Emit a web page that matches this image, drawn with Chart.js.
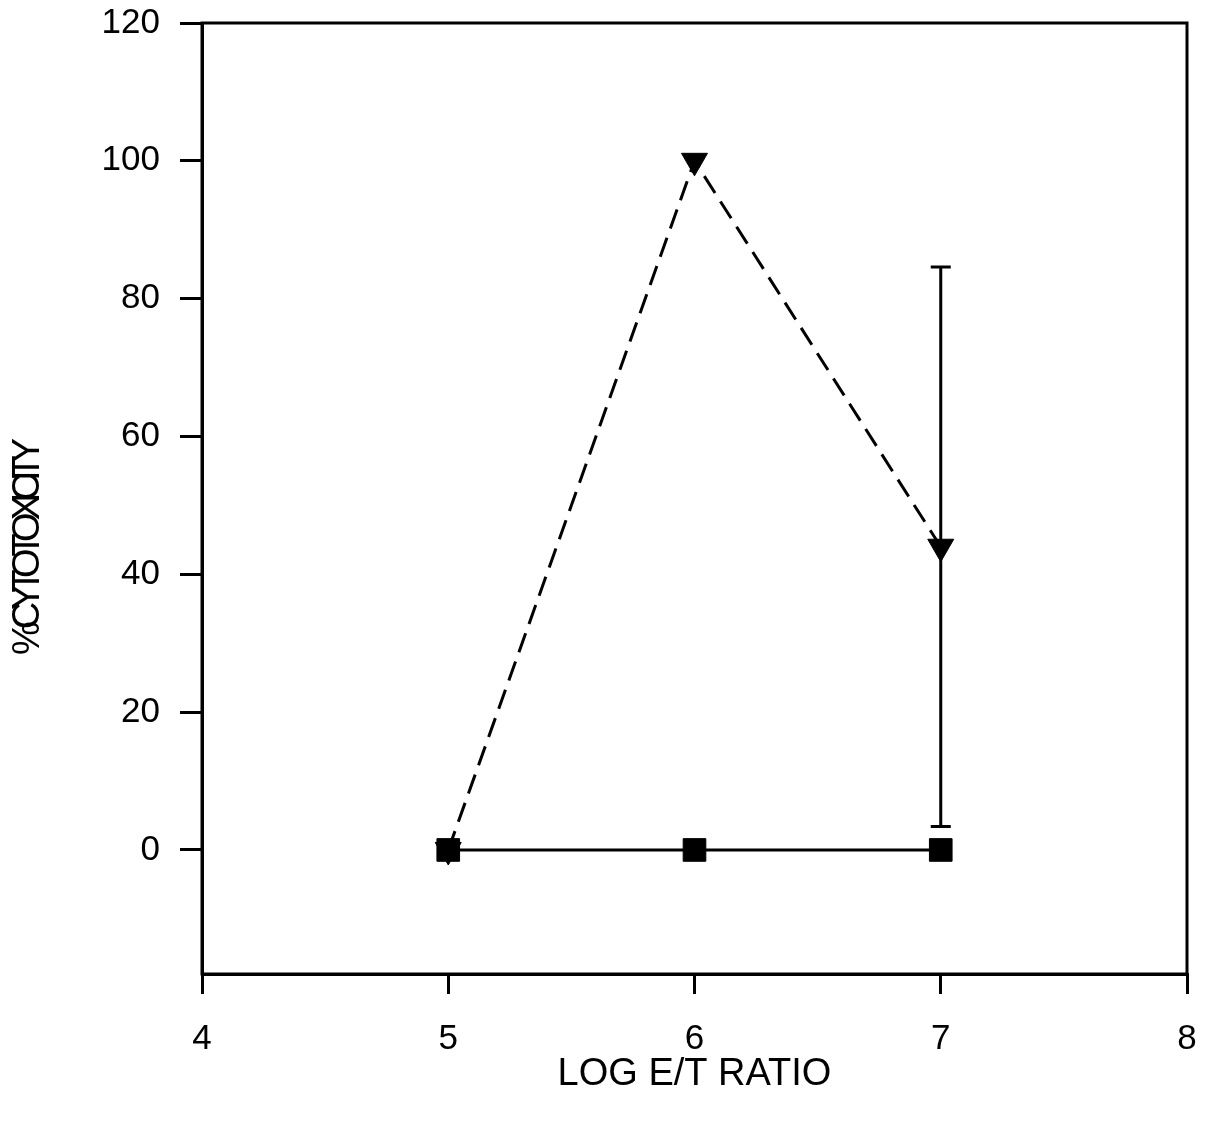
<!DOCTYPE html>
<html><head><meta charset="utf-8">
<script src="https://cdn.jsdelivr.net/npm/chart.js@4/dist/chart.umd.min.js"></script>
<style>html,body{margin:0;padding:0;background:#fff;}</style>
</head><body>
<canvas id="c" width="1205" height="1124" style="display:block;width:1205px;height:1124px"></canvas>
<script>
// ---- data ----
const logRatio = [5, 6, 7];
const seriesTriangle = [0, 100, 44];
const seriesSquare = [0, 0, 0];
const triangleErrLow = [null, null, 3.4];
const triangleErrHigh = [null, null, 84.6];
const xTickValues = [4, 5, 6, 7, 8];
const yTickValues = [0, 20, 40, 60, 80, 100, 120];
const xTitle = 'LOG E/T RATIO';
const yTitle = '%CYTOTOXICITY';

const FONT = '"Liberation Sans", Arial, sans-serif';

const errorBarPlugin = {
  id: 'errorBars',
  beforeDatasetsDraw(chart) {
    const {ctx, scales: {x, y}} = chart;
    ctx.save();
    ctx.strokeStyle = '#000';
    ctx.lineWidth = 3;
    logRatio.forEach((xv, i) => {
      if (triangleErrLow[i] == null) return;
      const px = x.getPixelForValue(xv);
      const lo = y.getPixelForValue(triangleErrLow[i]);
      const hi = y.getPixelForValue(triangleErrHigh[i]);
      ctx.beginPath();
      ctx.moveTo(px, lo); ctx.lineTo(px, hi);
      ctx.moveTo(px - 10, lo); ctx.lineTo(px + 10, lo);
      ctx.moveTo(px - 10, hi); ctx.lineTo(px + 10, hi);
      ctx.stroke();
    });
    ctx.restore();
  },
  afterDraw(chart) {
    const {ctx, chartArea: a} = chart;
    ctx.save();
    ctx.strokeStyle = '#000';
    ctx.lineWidth = 3;
    ctx.strokeRect(a.left, a.top, a.right - a.left, a.bottom - a.top);
    // y axis title (condensed)
    ctx.translate(29, (a.top + a.bottom) / 2 + 52);
    ctx.rotate(-Math.PI / 2);
    ctx.font = '38px ' + FONT;
    if ('letterSpacing' in ctx) ctx.letterSpacing = '-8px';
    ctx.fillStyle = '#000';
    ctx.textAlign = 'center';
    ctx.textBaseline = 'middle';
    ctx.fillText(yTitle, 0, 0);
    ctx.restore();
  }
};

new Chart(document.getElementById('c'), {
  type: 'scatter',
  data: {
    datasets: [
      {
        label: 'squares',
        data: logRatio.map((v, i) => ({x: v, y: seriesSquare[i]})),
        showLine: true,
        borderColor: '#000',
        borderWidth: 3,
        backgroundColor: '#000',
        pointStyle: 'rect',
        pointRadius: 16,
        pointBorderWidth: 1,
        order: 0
      },
      {
        label: 'triangles',
        data: logRatio.map((v, i) => ({x: v, y: seriesTriangle[i]})),
        showLine: true,
        borderColor: '#000',
        borderWidth: 3,
        borderDash: [20, 10],
        backgroundColor: '#000',
        pointStyle: 'triangle',
        rotation: 180,
        pointRadius: 15,
        pointBorderWidth: 1,
        order: 1
      }
    ]
  },
  options: {
    responsive: false,
    devicePixelRatio: 1,
    animation: false,
    layout: {padding: {top: 23, right: 18, left: 0, bottom: 0}},
    plugins: {legend: {display: false}, tooltip: {enabled: false}},
    scales: {
      x: {
        type: 'linear', min: 4, max: 8,
        afterBuildTicks: s => { s.ticks = xTickValues.map(v => ({value: v})); },
        afterFit: s => { s.height = 150; s.paddingLeft = 0; s.paddingRight = 0; },
        grid: {drawOnChartArea: false, tickLength: 20, color: '#000', lineWidth: 3},
        border: {display: true, color: '#000', width: 3},
        ticks: {color: '#000', font: {family: FONT, size: 35}, padding: 24, maxRotation: 0},
        title: {display: true, text: xTitle, color: '#000', font: {family: FONT, size: 38}, padding: {top: 27, bottom: 27}}
      },
      y: {
        type: 'linear', min: -18, max: 120,
        afterBuildTicks: s => { s.ticks = yTickValues.map(v => ({value: v})); },
        afterFit: s => { s.width = 202; s.paddingTop = 0; s.paddingBottom = 0; },
        grid: {drawOnChartArea: false, tickLength: 22, color: '#000', lineWidth: 3},
        border: {display: true, color: '#000', width: 3},
        ticks: {color: '#000', font: {family: FONT, size: 35}, padding: 20}
      }
    }
  },
  plugins: [errorBarPlugin]
});
</script>
</body></html>
